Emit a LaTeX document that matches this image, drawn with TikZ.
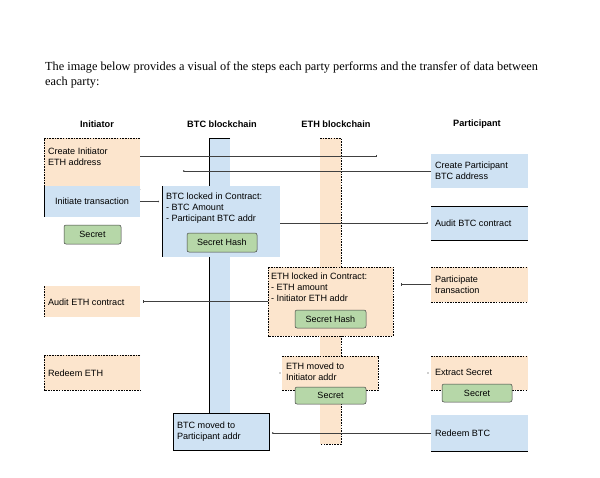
\documentclass[tikz,border=0pt]{standalone}
\usepackage{fontspec}
\setmainfont{Liberation Serif}
\newfontfamily\arialf{Liberation Sans}
\usetikzlibrary{arrows.meta}
\definecolor{bluefill}{HTML}{CFE2F3}
\definecolor{orangefill}{HTML}{FCE5CD}
\definecolor{greenfill}{HTML}{B6D7A8}
\tikzset{
  box/.style={draw=none, inner sep=0pt, outer sep=0pt, anchor=north west},
  bluebox/.style={box, fill=bluefill},
  orangebox/.style={box, fill=orangefill},
  secretbox/.style={box, fill=greenfill, draw=black!75, line width=0.5pt, rounded corners=2pt,
    font=\arialf\fontsize{9}{10}\selectfont},
  txt/.style={inner sep=0pt, outer sep=0pt, anchor=west, align=left,
    font=\arialf\fontsize{9.1}{11}\selectfont},
  head/.style={inner sep=0pt, anchor=center, font=\arialf\bfseries\fontsize{9.2}{10}\selectfont},
  dashb/.style={draw=black, line width=0.6pt, dash pattern=on 1.6pt off 1.1pt},
  solidb/.style={draw=black, line width=0.8pt},
  conn/.style={draw=black!75, line width=0.6pt},
  dotend/.style={-{Circle[length=1.4pt]}},
  tickend/.style={-{Bar[width=2.5pt]}},
}
\begin{document}
\begin{tikzpicture}[x=1pt, y=-1pt]
\useasboundingbox (0,0) rectangle (600,477);
\fill[white] (0,0) rectangle (600,477);

% title
\node[inner sep=0pt, anchor=base west, font=\fontsize{12.3}{14}\selectfont] (title1) at (45,70)
  {The image below provides a visual of the steps each party performs and the transfer of data between};
\node[inner sep=0pt, anchor=base west, font=\fontsize{12.3}{14}\selectfont] (title2) at (45,85)
  {each party:};

% headers
\node[head] (hInit) at (97,124) {Initiator};
\node[head] (hBTC) at (222,124) {BTC blockchain};
\node[head] (hETH) at (336,124) {ETH blockchain};
\node[head] (hPart) at (477,124) {Participant};

% blockchain bars
\node[bluebox, minimum width=21pt, minimum height=275pt] (btcbar) at (209,138) {};
\draw[solidb] (btcbar.north east) -- (btcbar.north west) -- (btcbar.south west);
\node[orangebox, minimum width=21pt, minimum height=306pt] (ethbar) at (320,138) {};
\draw[dashb] (ethbar.north west) -- (ethbar.north east) -- (ethbar.south east) -- (ethbar.south west);

% ---- Initiator column
\node[orangebox, minimum width=96pt, minimum height=51pt] (ci) at (44,138) {};
\draw[dashb] (ci.north east) -- (ci.north west) -- (ci.south west) -- (ci.south east);
\node[txt] (ciT) at (48,157) {Create Initiator\\ETH address};

\node[bluebox, minimum width=96pt, minimum height=31pt] (it) at (44,186) {};
\draw[solidb] (it.north west) -- (it.south west);
\node[txt, anchor=center] (itT) at (it.center) {Initiate transaction};

\node[secretbox, minimum width=57pt, minimum height=19pt] (s1) at (64,225) {Secret};

\node[orangebox, minimum width=96pt, minimum height=31pt] (ae) at (44,286) {};
\draw[dashb] (ae.north west) -- (ae.south west);
\node[txt] (aeT) at (48,302) {Audit ETH contract};

\node[orangebox, minimum width=96pt, minimum height=35pt] (re) at (44,355) {};
\draw[dashb] (re.north east) -- (re.north west) -- (re.south west) -- (re.south east);
\node[txt] (reT) at (48,373) {Redeem ETH};

% ---- BTC blockchain column
\node[bluebox, minimum width=118pt, minimum height=71pt] (btcl) at (162,186) {};
\draw[solidb] (btcl.north west) -- (btcl.south west);
\node[txt, anchor=north west] (btclT) at (166,193) {BTC locked in Contract:\\- BTC Amount\\- Participant BTC addr};
\node[secretbox, minimum width=70pt, minimum height=19pt] (sh1) at (187,233) {Secret Hash};

\node[bluebox, minimum width=96pt, minimum height=37pt, draw=black, line width=0.8pt] (btcm) at (173,413) {};
\node[txt] (btcmT) at (177,432) {BTC moved to\\Participant addr};

% ---- ETH blockchain column
\node[orangebox, minimum width=125pt, minimum height=69pt] (ethl) at (268,267) {};
\draw[dashb] (ethl.north west) rectangle (ethl.south east);
\node[txt, anchor=north west] (ethlT) at (271,273) {ETH locked in Contract:\\- ETH amount\\- Initiator ETH addr};
\node[secretbox, minimum width=71pt, minimum height=18pt] (sh2) at (295,310) {Secret Hash};

\node[orangebox, minimum width=96pt, minimum height=34pt] (ethm) at (282,356) {};
\draw[dashb] (ethm.north west) -- (ethm.north east) -- (ethm.south east) -- (ethm.south west);
\node[txt] (ethmT) at (286,372) {ETH moved to\\Initiator addr};
\node[secretbox, minimum width=71pt, minimum height=17pt] (s2) at (295,387) {Secret};

% ---- Participant column
\node[bluebox, minimum width=97pt, minimum height=34pt] (cp) at (431,154) {};
\node[txt] (cpT) at (435,171) {Create Participant\\BTC address};

\node[bluebox, minimum width=97pt, minimum height=34pt] (ab) at (431,206) {};
\draw[solidb] (ab.north west) -- (ab.north east);
\draw[solidb] (ab.south west) -- (ab.south east);
\node[txt] (abT) at (435,223) {Audit BTC contract};

\node[orangebox, minimum width=97pt, minimum height=35pt] (pt) at (431,267) {};
\draw[dashb] (pt.north west) -- (pt.north east);
\draw[dashb] (pt.south west) -- (pt.south east);
\node[txt] (ptT) at (435,285) {Participate\\transaction};

\node[orangebox, minimum width=97pt, minimum height=34pt] (es) at (431,356) {};
\draw[dashb] (es.north west) -- (es.north east);
\draw[dashb] (es.south west) -- (es.south east);
\node[txt] (esT) at (435,372) {Extract Secret};
\node[secretbox, minimum width=70pt, minimum height=18pt] (s3) at (442,384) {Secret};

\node[bluebox, minimum width=97pt, minimum height=36pt] (rb) at (431,415) {};
\draw[solidb] (rb.south west) -- (rb.south east);
\node[txt] (rbT) at (435,433) {Redeem BTC};

% ---- connectors
\coordinate (c1end) at (377,156);
\coordinate (c2end) at (183,171);
\draw[conn, tickend] (ci.east |- c1end) -- (c1end);
\draw[conn, dotend] (cp.west) -- (c2end);
\draw[conn, dotend] (it.east) -- ([xshift=-3pt]btcl.west |- it.east);
\draw[conn, dotend] (btcl.east |- ab.west) -- ([xshift=-3pt]ab.west);
\draw[conn, tickend] (ethl.west |- ae.east) -- ([xshift=3pt]ae.east);
\draw[conn, tickend] (pt.west) -- ([xshift=8pt]ethl.east |- pt.west);
\draw[conn, dotend] (rb.west) -- ([xshift=3pt]btcm.east |- rb.west);
\fill[black!80] ([xshift=-2pt]ethm.west) circle (0.7pt);
\fill[black!80] ([xshift=-3pt]es.west) circle (0.7pt);
\end{tikzpicture}
\end{document}
